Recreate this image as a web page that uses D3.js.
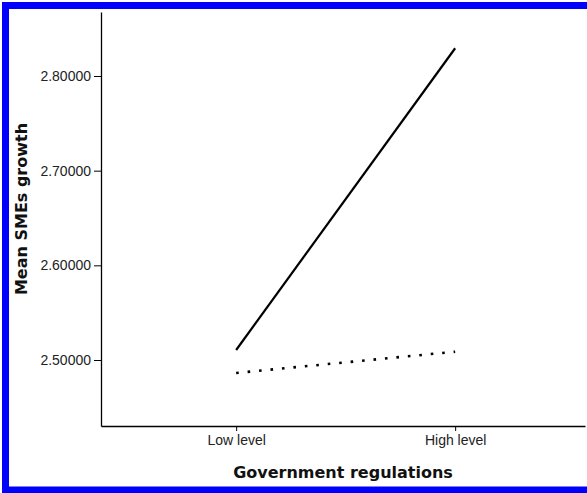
<!DOCTYPE html>
<html>
<head>
<meta charset="utf-8">
<script src="https://cdn.jsdelivr.net/npm/d3@7"></script>
<style>
  body { margin: 0; background: #fff; }
  .tick text { font-family: "Liberation Sans", Arial, sans-serif; font-size: 14px; fill: #222; }
  .title { font-family: "DejaVu Sans", sans-serif; font-weight: bold; font-size: 16px; fill: #111; }
</style>
</head>
<body>
<div id="chart"></div>
<script>
// categories on the x axis
var levels = ["Low level", "High level"];
// the two lines, mean SMEs growth per level
var solidValues = [2.5106, 2.8293];
var dottedValues = [2.4863, 2.5088];
var yTicks = [2.5, 2.6, 2.7, 2.8];

var W = 587, H = 493;

var svg = d3.select("#chart").append("svg")
    .attr("width", W)
    .attr("height", H);

// blue frame (right side is cropped in the original)
svg.append("rect")
    .attr("x", 5.5).attr("y", 5.5)
    .attr("width", W + 20).attr("height", H - 8.5)
    .attr("fill", "none")
    .attr("stroke", "#0000ff")
    .attr("stroke-width", 7);

var plotLeft = 101, plotRight = 585, plotTop = 12, plotBottom = 426;

var x = d3.scalePoint().domain(levels).range([plotLeft, plotRight]).padding(0.605).align(0.51);
var y = d3.scaleLinear().domain([2.4303, 2.8676]).range([plotBottom, plotTop]);

// x axis
var xAxis = svg.append("g")
    .attr("transform", `translate(0, ${plotBottom})`)
    .call(d3.axisBottom(x).tickSize(5).tickSizeOuter(0).tickPadding(4));
xAxis.select(".domain").attr("stroke", "#000").attr("stroke-width", 1.3);

// y axis
var yAxis = svg.append("g")
    .attr("transform", `translate(${plotLeft}, 0)`)
    .call(d3.axisLeft(y).tickValues(yTicks).tickFormat(d3.format(".5f")).tickSize(7).tickSizeOuter(0).tickPadding(3));
yAxis.select(".domain").attr("stroke", "#000").attr("stroke-width", 1.3);

// lines
var line = d3.line()
    .x((d, i) => x(levels[i]))
    .y(d => y(d));

svg.append("path")
    .datum(solidValues)
    .attr("d", line)
    .attr("fill", "none")
    .attr("stroke", "#000")
    .attr("stroke-width", 2.2);

svg.append("path")
    .datum(dottedValues)
    .attr("d", line)
    .attr("fill", "none")
    .attr("stroke", "#000")
    .attr("stroke-width", 2.6)
    .attr("stroke-dasharray", "2.6 8.9");

// axis titles
svg.append("text")
    .attr("class", "title")
    .attr("x", (plotLeft + plotRight) / 2)
    .attr("y", 478)
    .attr("text-anchor", "middle")
    .text("Government regulations");

svg.append("text")
    .attr("class", "title")
    .attr("transform", `translate(27, ${(plotTop + plotBottom) / 2 - 10}) rotate(-90)`)
    .attr("text-anchor", "middle")
    .text("Mean SMEs growth");
</script>
</body>
</html>
